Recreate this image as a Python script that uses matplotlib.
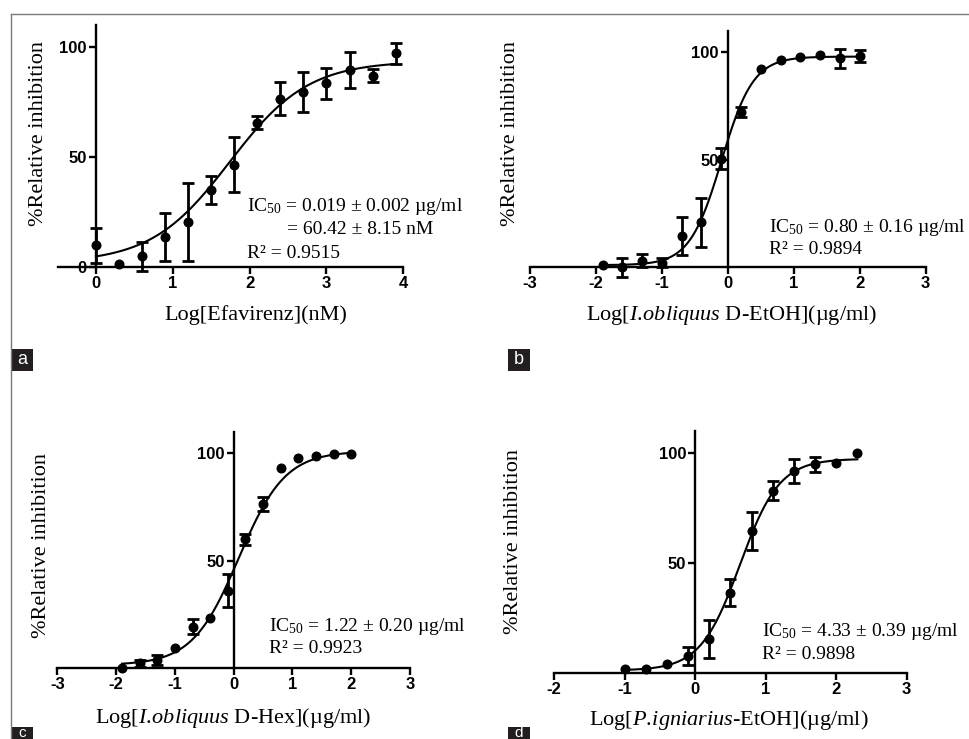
import numpy as np
import matplotlib
matplotlib.use("Agg")
import matplotlib.pyplot as plt
from matplotlib.patches import Rectangle
from matplotlib.lines import Line2D

plt.rcParams['mathtext.fontset'] = 'custom'
plt.rcParams['mathtext.rm'] = 'Liberation Serif'
plt.rcParams['mathtext.it'] = 'Liberation Serif:italic'

# ---- data ----
# a: Efavirenz
logc_a = [0.0, 0.3, 0.6, 0.9, 1.2, 1.5, 1.8, 2.1, 2.4, 2.7, 3.0, 3.3, 3.6, 3.9]
inh_a = [10.0, 1.5, 5.0, 13.7, 20.7, 35.0, 46.5, 65.5, 76.5, 79.5, 83.5, 89.5, 86.8, 97.0]
err_a = [8.0, 0.0, 6.5, 11.0, 17.7, 6.4, 12.5, 3.0, 7.4, 9.0, 7.0, 8.2, 2.9, 4.8]
fit_a = (2.0, 93.5, 1.74, 0.85)  # bottom, top, logIC50, hill

# b: I. obliquus D-EtOH
logc_b = [-1.9, -1.6, -1.3, -1.0, -0.7, -0.4, -0.1, 0.2, 0.5, 0.8, 1.1, 1.4, 1.7, 2.0]
inh_b = [1.1, 0.0, 3.0, 2.2, 14.6, 20.9, 50.5, 72.1, 92.2, 96.4, 97.7, 98.8, 97.2, 98.3]
err_b = [0.0, 4.5, 3.0, 2.0, 8.7, 11.3, 5.0, 2.3, 0.0, 0.0, 0.0, 0.0, 4.3, 2.7]
fit_b = (1.0, 98.0, -0.097, 1.8)

# c: I. obliquus D-Hex
logc_c = [-1.9, -1.6, -1.3, -1.0, -0.7, -0.4, -0.1, 0.2, 0.5, 0.8, 1.1, 1.4, 1.7, 2.0]
inh_c = [0.0, 2.3, 3.9, 9.6, 19.4, 23.3, 36.1, 60.0, 76.3, 93.3, 97.7, 98.9, 99.7, 99.7]
err_c = [0.0, 1.5, 2.5, 0.0, 3.5, 0.0, 7.7, 2.5, 3.2, 0.0, 0.0, 0.0, 0.0, 0.0]
fit_c = (1.5, 101.0, 0.086, 1.1)

# d: P. igniarius-EtOH
logc_d = [-1.0, -0.7, -0.4, -0.1, 0.2, 0.5, 0.8, 1.1, 1.4, 1.7, 2.0, 2.3]
inh_d = [1.5, 1.7, 3.8, 7.6, 15.3, 36.5, 64.6, 83.0, 91.9, 95.0, 95.4, 100.0]
err_d = [0.0, 0.0, 0.0, 4.3, 8.8, 6.2, 8.5, 4.4, 5.5, 3.4, 0.0, 0.0]
fit_d = (1.0, 97.5, 0.636, 1.55)

xlabels = [r'Log[Efavirenz](nM)',
           r'Log[$\mathit{I.\!obliquus}$ D-EtOH](µg/ml)',
           r'Log[$\mathit{I.\!obliquus}$ D-Hex](µg/ml)',
           r'Log[$\mathit{P.\!igniarius}$-EtOH](µg/ml)']
notes = [['IC$_{50}$ = 0.019 ± 0.002 µg/ml', '= 60.42 ± 8.15 nM', 'R² = 0.9515'],
         ['IC$_{50}$ = 0.80 ± 0.16 µg/ml', 'R² = 0.9894'],
         ['IC$_{50}$ = 1.22 ± 0.20 µg/ml', 'R² = 0.9923'],
         ['IC$_{50}$ = 4.33 ± 0.39 µg/ml', 'R² = 0.9898']]
letters = ['a', 'b', 'c', 'd']

W, H = 970, 739
fig = plt.figure(figsize=(W / 100, H / 100), dpi=100)


def fx(px):
    return px / W


def fy(py):
    return 1 - py / H


def place(ax, xv, xp, yv, yp, xlim, ylim):
    # map two known data values to their pixel positions
    sx = (xp[1] - xp[0]) / (xv[1] - xv[0])
    sy = (yp[1] - yp[0]) / (yv[1] - yv[0])
    left = xp[0] + (xlim[0] - xv[0]) * sx
    right = xp[0] + (xlim[1] - xv[0]) * sx
    top = yp[0] + (ylim[1] - yv[0]) * sy
    bottom = yp[0] + (ylim[0] - yv[0]) * sy
    ax.set_position([fx(left), fy(bottom), (right - left) / W, (bottom - top) / H])
    ax.set_xlim(*xlim)
    ax.set_ylim(*ylim)


def logistic(x, p):
    b, t, lc, h = p
    return b + (t - b) / (1 + 10 ** ((lc - x) * h))


panels = [
    # data, fit, x ticks, y ticks, pixel calibration, xlim
    (logc_a, inh_a, err_a, fit_a, [0, 1, 2, 3, 4], [0, 50, 100],
     (0, 4), (96, 403.3), (0, 100), (267.3, 46.7), (-0.5, 4)),
    (logc_b, inh_b, err_b, fit_b, [-3, -2, -1, 0, 1, 2, 3], [50, 100],
     (-3, 3), (530, 925.7), (0, 100), (267.3, 52.3), (-3, 3)),
    (logc_c, inh_c, err_c, fit_c, [-3, -2, -1, 0, 1, 2, 3], [50, 100],
     (-3, 3), (57.3, 410), (0, 100), (668.3, 453.3), (-3, 3)),
    (logc_d, inh_d, err_d, fit_d, [-2, -1, 0, 1, 2, 3], [50, 100],
     (-2, 3), (554, 906.7), (0, 100), (672.7, 453.3), (-2, 3)),
]

ylab_pos = [(39, 134), (511, 134), (41.7, 546), (513.3, 541)]
xlab_pos = [(255.8, 315), (731.7, 315), (233.3, 718), (728.3, 720)]
note_pos = [[(246.7, 206.7), (286.7, 229.3), (246.7, 253.3)],
            [(769, 227.7), (769, 250)],
            [(269.3, 626.7), (269.3, 648.3)],
            [(762.3, 631.7), (762.3, 654.3)]]
box_pos = [(11, 349), (508, 349), (11, 727), (508, 727)]

lw = 1.7
for i, (xs, ys, es, fit, xt, yt, xv, xp, yv, yp, xlim) in enumerate(panels):
    ax = fig.add_axes([0, 0, 1, 1])
    place(ax, xv, xp, yv, yp, xlim, (-6, 110))
    ax.set_facecolor('none')
    xs = np.array(xs)
    ys = np.array(ys)
    es = np.array(es)

    xx = np.linspace(xs.min(), xs.max(), 300)
    ax.plot(xx, logistic(xx, fit), color='black', lw=1.5, zorder=3)
    m = es > 0
    ax.errorbar(xs[m], ys[m], yerr=es[m], fmt='none', ecolor='black',
                elinewidth=lw + 0.3, capsize=4.5, capthick=lw + 0.3, zorder=4)
    ax.plot(xs, ys, 'o', color='black', ms=6.2, zorder=5)

    for s in ['top', 'right']:
        ax.spines[s].set_visible(False)
    ax.spines['left'].set_position(('data', 0))
    ax.spines['bottom'].set_position(('data', 0))
    ax.spines['left'].set_bounds(0, 110)
    ax.spines['bottom'].set_bounds(*xlim)
    for s in ['left', 'bottom']:
        ax.spines[s].set_linewidth(lw)
    ax.set_xticks(xt)
    ax.set_yticks(yt)
    ax.set_xticklabels([str(v) for v in xt])
    ax.set_yticklabels([str(v) for v in yt])
    ax.tick_params(length=5, width=lw, pad=1.5, labelsize=12)
    for lab in ax.get_xticklabels() + ax.get_yticklabels():
        lab.set_family('Liberation Sans')
        lab.set_fontweight('bold')

    fig.text(fx(ylab_pos[i][0]), fy(ylab_pos[i][1]), '%Relative inhibition',
             rotation=90, ha='center', va='center', family='Liberation Serif',
             fontsize=16)
    fig.text(fx(xlab_pos[i][0]), fy(xlab_pos[i][1]), xlabels[i],
             ha='center', va='center', family='Liberation Serif', fontsize=16)
    for txt, (px, py) in zip(notes[i], note_pos[i]):
        fig.text(fx(px), fy(py), txt, ha='left', va='center',
                 family='Liberation Serif', fontsize=14)

    bx, by = box_pos[i]
    fig.patches.append(Rectangle((fx(bx), fy(by + 22)), 22 / W, 22 / H,
                                 transform=fig.transFigure, facecolor='#231f20',
                                 edgecolor='none'))
    # bottom-row letters sit in the strip that is cut by the image edge
    ly = by + 11 if by < 700 else by + 6
    fig.text(fx(bx + 11), fy(ly), letters[i], color='white', ha='center',
             va='center', family='Liberation Sans',
             fontsize=13 if by < 700 else 11)

# thin grey frame along the top and left edges
fig.add_artist(Line2D([fx(11), 1], [fy(14), fy(14)], color='#7a7a7a', lw=1.0,
                      transform=fig.transFigure))
fig.add_artist(Line2D([fx(11), fx(11)], [fy(14), 0], color='#7a7a7a', lw=1.0,
                      transform=fig.transFigure))

fig.savefig('out.png', dpi=100)
